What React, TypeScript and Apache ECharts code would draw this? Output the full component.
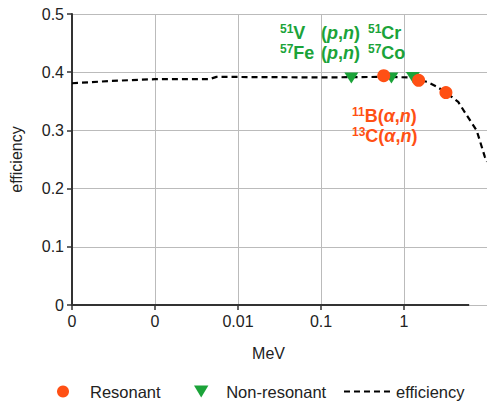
import React, { useEffect, useRef } from "react";
import * as echarts from "echarts";

const effX = [0.0001, 0.0003, 0.001, 0.0045, 0.0055, 0.1, 0.6, 1.2, 1.5, 1.9, 2.5, 3.2, 4.5, 5.7, 7.5, 9.4, 10];
const effY = [0.381, 0.385, 0.388, 0.388, 0.392, 0.391, 0.392, 0.391, 0.386, 0.3835, 0.375, 0.365, 0.349, 0.326, 0.3, 0.255, 0.246];

const resonantX = [0.57, 1.5, 3.2];
const resonantY = [0.394, 0.386, 0.365];

const nonResX = [0.232, 0.705, 1.28];
const nonResY = [0.39, 0.39, 0.391];

const yTicks = [0, 0.1, 0.2, 0.3, 0.4, 0.5];
const xMin = 0.0001;
const xMax = 10;
const xAxisLineEnd = 6.1;

const RED = "#ff5014";
const GREEN = "#1ba339";
const TEXT = "#222";
const TRI = "path://M0,0L12,0L6,10Z";

export default function App() {
  const ref = useRef<HTMLDivElement>(null);
  useEffect(() => {
    if (!ref.current) return;
    const chart = echarts.init(ref.current, undefined, { renderer: "svg" });
    const supRich = (color: string) => ({
      s: { fontSize: 12, fontWeight: "bold", fill: color, color, lineHeight: 12, verticalAlign: "top", fontFamily: "Liberation Sans" },
      b: { fontSize: 18, fontWeight: "bold", fill: color, color, lineHeight: 20, fontFamily: "Liberation Sans" },
      i: { fontSize: 18, fontWeight: "bold", fontStyle: "italic", fill: color, color, lineHeight: 20, fontFamily: "Liberation Sans" },
    });
    const txt = (x: number, y: number, text: string, color: string) => ({
      type: "text",
      x,
      y,
      z: 100,
      style: {
        text,
        rich: supRich(color),
        fill: color,
        fontSize: 18,
        fontWeight: "bold",
        fontFamily: "Liberation Sans",
        verticalAlign: "top",
        align: "left",
      },
    });
    const legendBase = {
      top: 383,
      itemHeight: 12,
      itemGap: 0,
      padding: 0,
      textStyle: { fontSize: 16.5, color: TEXT },
    };
    chart.setOption({
      animation: false,
      textStyle: { fontFamily: "Liberation Sans" },
      grid: { left: 70, right: 0, top: 14, bottom: 97, containLabel: false },
      xAxis: {
        type: "log",
        logBase: 10,
        min: xMin,
        max: xMax,
        name: "MeV",
        nameLocation: "middle",
        nameGap: 40,
        nameTextStyle: { fontSize: 16, color: TEXT, padding: [0, 22, 0, 0] },
        axisLine: { show: false },
        axisTick: { show: true, length: 5, lineStyle: { color: "#333", width: 1.5 } },
        axisLabel: {
          fontSize: 16,
          color: TEXT,
          margin: 8,
          showMaxLabel: false,
          formatter: (v: number) => String(Number(v.toFixed(2))),
        },
        splitLine: { show: true, lineStyle: { color: "#bbb", width: 1 } },
        minorTick: { show: false },
      },
      yAxis: {
        type: "value",
        min: yTicks[0],
        max: yTicks[yTicks.length - 1],
        interval: 0.1,
        name: "efficiency",
        nameLocation: "middle",
        nameGap: 48,
        nameTextStyle: { fontSize: 16, color: TEXT },
        axisLine: { show: true, lineStyle: { color: "#333", width: 2 } },
        axisTick: { show: true, length: 5, lineStyle: { color: "#333", width: 1.5 } },
        axisLabel: {
          fontSize: 16,
          color: TEXT,
          margin: 8,
          formatter: (v: number) => (v === 0 ? "0" : v.toFixed(1)),
        },
        splitLine: { show: true, lineStyle: { color: "#bbb", width: 1 } },
      },
      legend: [
        { ...legendBase, left: 57, itemWidth: 44, data: [{ name: "Resonant", icon: "circle" }] },
        { ...legendBase, left: 194, itemWidth: 40, data: [{ name: "Non-resonant", icon: TRI }] },
        {
          ...legendBase,
          left: 343,
          itemWidth: 47,
          data: [{ name: "efficiency", itemStyle: { opacity: 0 } }],
        },
      ],
      series: [
        {
          name: "efficiency",
          type: "line",
          z: 1,
          symbol: "none",
          showSymbol: false,
          data: effX.map((x, i) => [x, effY[i]]),
          lineStyle: { color: "#000", width: 2.2, type: [6, 4] },
          itemStyle: { color: "#000" },
          markLine: {
            silent: true,
            symbol: "none",
            label: { show: false },
            lineStyle: { color: "#333", width: 2, type: "solid" },
            data: [[{ coord: [xMin, 0] }, { coord: [xAxisLineEnd, 0] }]],
          },
        },
        {
          name: "Non-resonant",
          type: "scatter",
          z: 3,
          symbol: TRI,
          symbolSize: [14, 11],
          data: nonResX.map((x, i) => [x, nonResY[i]]),
          itemStyle: { color: GREEN, opacity: 1 },
        },
        {
          name: "Resonant",
          type: "scatter",
          z: 4,
          symbol: "circle",
          symbolSize: 13,
          data: resonantX.map((x, i) => [x, resonantY[i]]),
          itemStyle: { color: RED, opacity: 1 },
        },
      ],
      graphic: [
        txt(280, 22.5, "{s|51}{b|V}\n{s|57}{b|Fe}", GREEN),
        txt(321, 22.5, "{b|(}{i|p}{b|,}{i|n}{b|)}\n{b|(}{i|p}{b|,}{i|n}{b|)}", GREEN),
        txt(368, 22.5, "{s|51}{b|Cr}\n{s|57}{b|Co}", GREEN),
        txt(352, 106, "{s|11}{b|B(}{i|α}{b|,}{i|n}{b|)}\n{s|13}{b|C(}{i|α}{b|,}{i|n}{b|)}", RED),
      ],
    });
    return () => chart.dispose();
  }, []);
  return <div ref={ref} style={{ width: 487, height: 402, position: "absolute", left: 0, top: 0 }} />;
}
